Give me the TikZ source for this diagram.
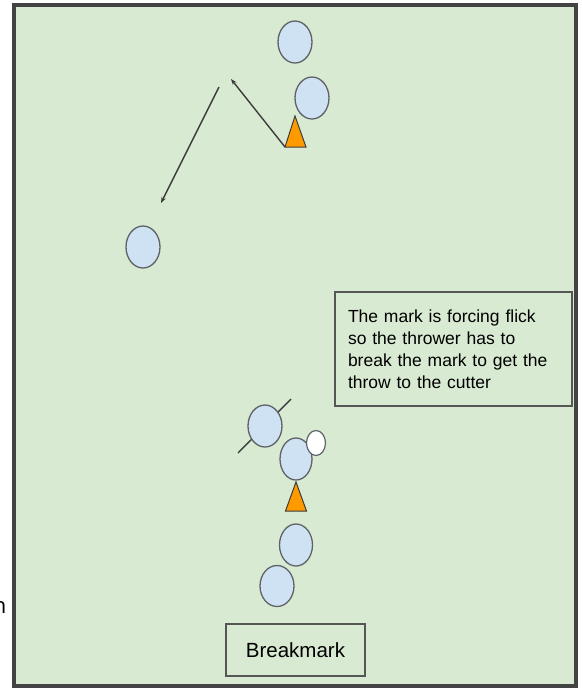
\documentclass[tikz,border=0pt]{standalone}
\usepackage{fontspec}
\setmainfont{Liberation Sans}
\newfontfamily\cutfont{Open Sans}
\usetikzlibrary{shapes.geometric,arrows.meta}
\definecolor{field}{HTML}{D9EAD3}
\definecolor{player}{HTML}{CFE2F3}
\definecolor{conecol}{HTML}{FF9900}
\definecolor{edgecol}{HTML}{5F6368}
\definecolor{framecol}{HTML}{434343}
\definecolor{linecol}{HTML}{3C3C3C}
\begin{document}
\begin{tikzpicture}[x=1pt,y=-1pt,
  playerstyle/.style={ellipse,draw=edgecol,fill=player,line width=1.3pt,inner sep=0pt,minimum width=34pt,minimum height=42pt},
  discstyle/.style={ellipse,draw=edgecol,fill=white,line width=1.2pt,inner sep=0pt,minimum width=19pt,minimum height=25pt},
  conestyle/.style={draw=linecol,fill=conecol,line width=1pt,line join=miter},
  throwline/.style={draw=linecol,line width=1.4pt,-{Stealth[length=6pt,width=4.5pt]}},
  plainline/.style={draw=linecol,line width=1.4pt},
  textbox/.style={draw=framecol!90,line width=1.6pt,inner sep=0pt,align=left}]
\useasboundingbox (0,0) rectangle (582,689);
\fill[white] (0,0) rectangle (582,689);
\draw[fill=field,draw=framecol,line width=4pt] (14,5) rectangle (575.5,686);

% clipped text at left edge
\node[anchor=base east,inner sep=0pt,font=\cutfont\fontsize{22}{26}\selectfont,text=black] (cut) at (6.5,613) {n};

% upper play
\node[playerstyle] (p1) at (295,42) {};
\node[playerstyle] (p2) at (312,98) {};
\node[playerstyle] (p3) at (143,247) {};
\coordinate (c1a) at (295,116);
\coordinate (c1l) at (285,147);
\coordinate (c1r) at (306,147);
\draw[conestyle] (c1a) -- (c1r) -- (c1l) -- cycle;
\coordinate (a1end) at (231,79);
\draw[throwline] (c1l) -- (a1end);
\coordinate (a2start) at (219,87);
\coordinate (a2end) at (161,203);
\draw[throwline] (a2start) -- (a2end);

% lower play
\coordinate (m1) at (238,453);
\coordinate (m2) at (291,399);
\draw[plainline] (m1) -- (m2);
\node[playerstyle] (p4) at (265,426) {};
\node[playerstyle,minimum width=32pt] (p5) at (296,459) {};
\node[discstyle] (disc) at (316,443) {};
\coordinate (c2a) at (296,482);
\coordinate (c2l) at (285.5,511);
\coordinate (c2r) at (306.5,511);
\draw[conestyle] (c2a) -- (c2r) -- (c2l) -- cycle;
\node[playerstyle,minimum width=33pt] (p6) at (296,545) {};
\node[playerstyle,minimum height=41pt] (p7) at (277,586) {};

% text boxes
\node[textbox,minimum width=237pt,minimum height=114pt,text width=211pt,
      font=\fontsize{17.5}{22}\selectfont] (note) at (453.5,349)
  {The mark is forcing flick\\so the thrower has to\\break the mark to get the\\throw to the cutter};
\node[textbox,align=center,minimum width=139pt,minimum height=52pt,
      font=\fontsize{20.5}{24}\selectfont] (title) at (295.5,650) {Breakmark};
\end{tikzpicture}
\end{document}
